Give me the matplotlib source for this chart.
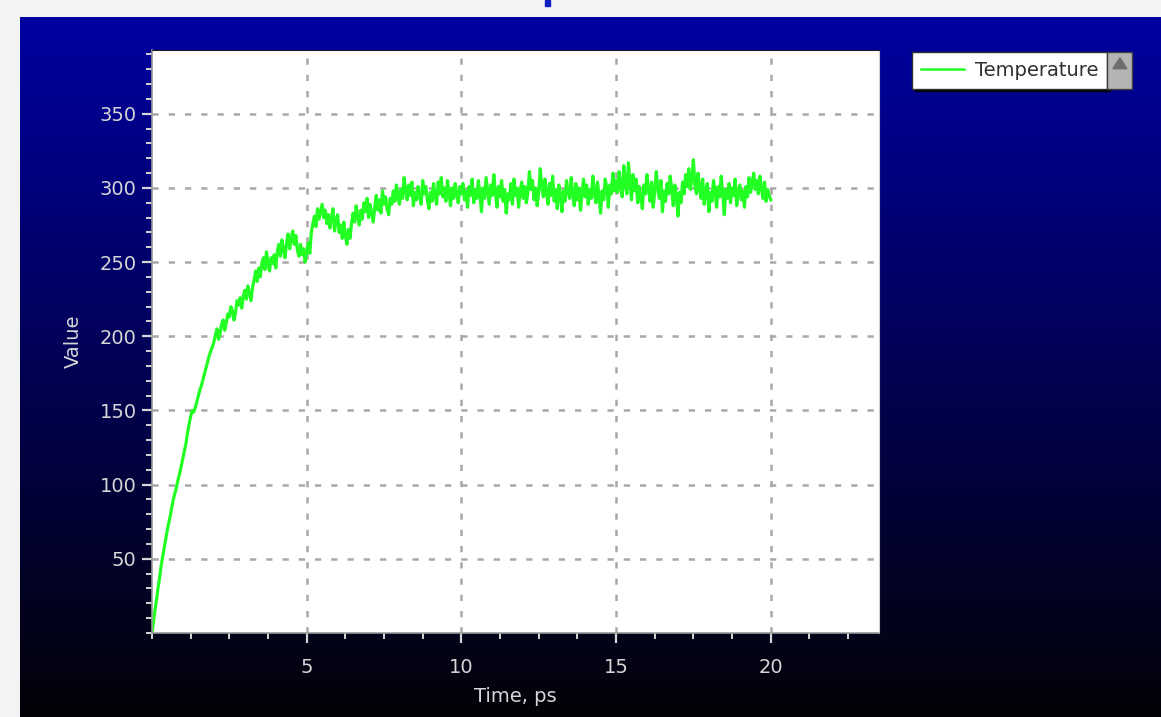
import numpy as np
import matplotlib
matplotlib.use("Agg")
import matplotlib.pyplot as plt
from matplotlib.patches import Rectangle, Polygon
from matplotlib.ticker import MultipleLocator, FixedLocator

# Temperature trace, sampled every 0.05 ps from 0 to 20 ps
temp_0_5 = [
    0, 8, 16, 23, 31, 38, 46, 52, 58, 64,
    70, 75, 80, 86, 91, 95, 99, 104, 108, 113,
    118, 123, 128, 135, 141, 146, 150, 149, 152, 156,
    160, 164, 167, 171, 175, 179, 183, 187, 190, 193,
    196,
    201, 205, 198, 202, 208, 211, 204, 209, 215, 213,
    220, 217, 211, 216, 224, 221, 226, 219, 227, 231,
    225, 234, 229, 224, 233, 238, 244, 237, 246, 240,
    249, 253, 245, 257, 249, 244, 253, 249, 255, 246,
    257, 262, 254, 265, 258, 253, 263, 269, 259, 266,
    271, 262, 268, 258, 254, 262, 255, 259, 250, 257,
]
temp_5_10 = [
    263, 256, 270, 276, 281, 274, 286, 279, 284, 289,
    280, 285, 276, 282, 273, 280, 286, 271, 278, 282,
    270, 275, 266, 277, 268, 262, 272, 266, 276, 283,
    277, 288, 281, 275, 285, 279, 290, 284, 293, 280,
    289, 283, 277, 287, 295, 285, 292, 283, 298, 289,
    294, 286, 282, 293, 289, 298, 291, 302, 294, 289,
    299, 293, 307, 298, 292, 302, 295, 304, 288, 297,
    292, 301, 294, 289, 305, 296, 301, 292, 286, 297,
    291, 303, 295, 289, 304, 296, 307, 294, 300, 291,
    305, 297, 288, 300, 293, 303, 296, 290, 301, 296,
]
temp_10_15 = [
    303, 292, 298, 287, 301, 295, 306, 290, 299, 293,
    305, 296, 284, 300, 293, 307, 298, 289, 302, 295,
    309, 297, 287, 301, 294, 305, 291, 299, 283, 296,
    292, 303, 289, 306, 295, 300, 287, 298, 304, 293,
    301, 290, 297, 311, 299, 305, 292, 300, 288, 297,
    313, 301, 294, 306, 297, 289, 303, 295, 308, 291,
    299, 286, 302, 296, 284, 298, 291, 305, 297, 293,
    307, 296, 288, 303, 292, 300, 285, 296, 306, 294,
    302, 289, 299, 293, 308, 297, 290, 304, 295, 283,
    298, 292, 306, 300, 287, 302, 296, 310, 298, 305,
]
temp_15_20 = [
    297, 311, 301, 294, 315, 303, 296, 317, 304, 292,
    309, 298, 306, 290, 301, 294, 286, 302, 296, 309,
    299, 291, 304, 287, 297, 311, 300, 293, 305, 284,
    298, 291, 303, 296, 308, 299, 288, 302, 295, 281,
    297, 290, 304, 296, 309, 301, 313, 299, 306, 319,
    302, 296, 310, 300, 293, 306, 289, 298, 303, 284,
    297, 291, 305, 298, 287, 301, 294, 308, 296, 282,
    299, 293, 303, 290, 300, 295, 306, 288, 297, 302,
    292, 298, 287, 301, 294, 307, 297, 303, 310, 299,
    305, 296, 308, 300, 293, 304, 291, 299, 295, 292,
]
temperature = temp_0_5 + temp_5_10 + temp_10_15 + temp_15_20
time_ps = np.linspace(0.0, 20.0, len(temperature))

series_name = "Temperature"
x_label = "Time, ps"
y_label = "Value"
x_ticks = [5, 10, 15, 20]
y_ticks = [50, 100, 150, 200, 250, 300, 350]

W, H = 1161, 717
fig = plt.figure(figsize=(W / 100, H / 100), dpi=100, facecolor="#f3f3f3")

# Blue-to-black gradient panel
bg = fig.add_axes([20 / W, 0, 1 - 20 / W, 1 - 17 / H], zorder=-5)
n = 256
frac = np.linspace(0, 1, n)[:, None]
top = np.array([0.0, 0.0, 0.63])
bottom = np.array([0.01, 0.01, 0.03])
grad = top[None, :] * (1 - frac) + bottom[None, :] * frac
bg.imshow(grad[:, None, :], aspect="auto", extent=[0, 1, 0, 1])
bg.set_axis_off()

# small marker at the top edge
fig.patches.append(Rectangle((545 / W, 1 - 6 / H), 5 / W, 6 / H,
                             transform=fig.transFigure, color="#1020c0"))

ax = fig.add_axes([152 / W, 1 - 633 / H, (879 - 152) / W, (633 - 50) / H])
ax.set_facecolor("white")
ax.plot(time_ps, temperature, color="#22ff22", lw=2.3, label=series_name)

ax.set_xlim(0, 23.5)
ax.set_ylim(0, 393)
ax.xaxis.set_major_locator(FixedLocator(x_ticks))
ax.xaxis.set_minor_locator(MultipleLocator(1.25))
ax.yaxis.set_major_locator(FixedLocator(y_ticks))
ax.yaxis.set_minor_locator(MultipleLocator(10))

ax.grid(True, which="major", color="#a8a8a8", lw=1.8, linestyle=(0, (2.5, 4)))
ax.set_axisbelow(True)

label_color = "#d6d6d6"
ax.tick_params(which="major", direction="out", length=7, width=1.6,
               colors=label_color, labelsize=14, pad=4)
ax.tick_params(axis="x", which="major", pad=11)
ax.tick_params(which="minor", direction="out", length=4, width=1.4, colors=label_color)
for s in ["left", "bottom"]:
    ax.spines[s].set_color("#9a9a9a")
    ax.spines[s].set_linewidth(1.2)
ax.spines["top"].set_color("#202020")
ax.spines["right"].set_color("#d0d0d0")

ax.set_xlabel(x_label, color=label_color, fontsize=14, labelpad=7)
ax.set_ylabel(y_label, color=label_color, fontsize=14, labelpad=12)

# Legend box in the upper right of the panel
leg = ax.legend(loc="upper left", bbox_to_anchor=(912 / W, 1 - 52 / H),
                bbox_transform=fig.transFigure, frameon=True, fancybox=False,
                shadow={"color": "black", "alpha": 0.9}, fontsize=14,
                handlelength=2.2, handletextpad=0.6, borderpad=0.45,
                borderaxespad=0)
leg.get_frame().set_edgecolor("#303030")
leg.get_frame().set_linewidth(1.0)
for line in leg.get_lines():
    line.set_linewidth(1.8)
for t in leg.get_texts():
    t.set_color("#303030")

# scroll button attached to the right edge of the legend
fig.canvas.draw()
bb = leg.get_frame().get_window_extent()
x0, y0, hgt = bb.x1, bb.y0, bb.height
bw = 25
fig.patches.append(Rectangle((x0 / W, y0 / H), bw / W, hgt / H,
                             transform=fig.transFigure, facecolor="#b4b4b4",
                             edgecolor="#404040", lw=1))
cx = x0 + bw / 2
cy = y0 + hgt * 0.68
fig.patches.append(Polygon([[(cx - 7) / W, (cy - 5) / H], [(cx + 7) / W, (cy - 5) / H],
                            [cx / W, (cy + 6) / H]], closed=True,
                           transform=fig.transFigure, color="#6e6e6e"))

fig.savefig("out.png", dpi=100, facecolor=fig.get_facecolor())
